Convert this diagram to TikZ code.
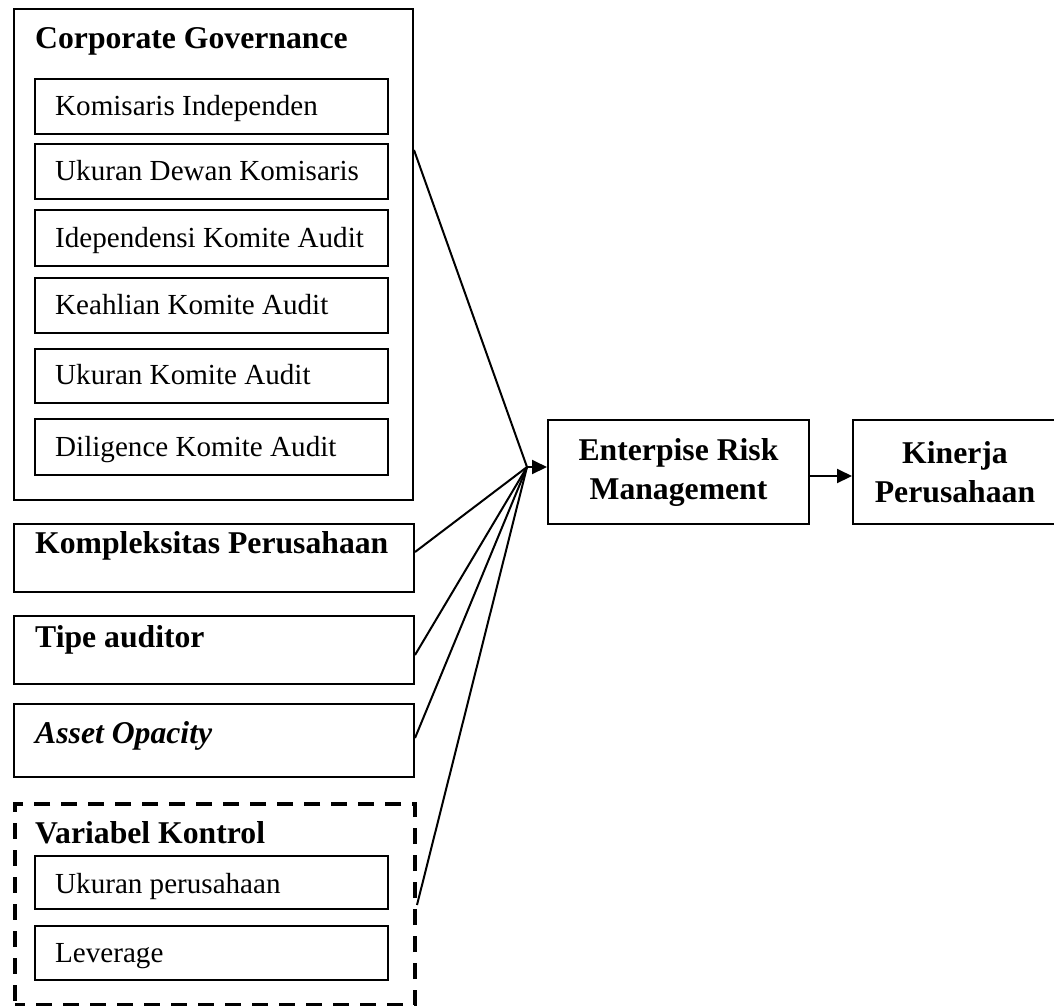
\documentclass[tikz,border=0pt]{standalone}
\usepackage{fontspec}
\setmainfont{Liberation Serif}
\usetikzlibrary{arrows.meta}
\begin{document}
\begin{tikzpicture}[x=1pt,y=-1pt,
  box/.style={draw, line width=2pt, inner sep=0pt, anchor=north west},
  dbox/.style={draw, line width=4pt, dash pattern=on 16pt off 11pt, dash phase=6pt, inner sep=0pt, anchor=north west},
  reg/.style={font=\fontsize{29.1}{35}\selectfont, anchor=base west, inner sep=0pt},
  bld/.style={font=\fontsize{31.7}{37}\selectfont\bfseries, inner sep=0pt},
  conn/.style={line width=2pt},
  tip/.style={-{Triangle[length=15pt,width=14pt]}}
]
\clip (0,0) rectangle (1054,1005);
\useasboundingbox (0,0) rectangle (1054,1005);

% Corporate governance group
\node[box, minimum width=399pt, minimum height=491pt] (cg) at (13,8) {};
\node[bld, anchor=base west] (cgt) at (35,48) {Corporate Governance};
\node[box, minimum width=353pt, minimum height=55pt] (k1) at (34,78) {};
\node[reg] (k1t) at (55,115) {Komisaris Independen};
\node[box, minimum width=353pt, minimum height=55pt] (k2) at (34,143) {};
\node[reg] (k2t) at (55,180) {Ukuran Dewan Komisaris};
\node[box, minimum width=353pt, minimum height=56pt] (k3) at (34,209) {};
\node[reg] (k3t) at (55,247) {Idependensi Komite Audit};
\node[box, minimum width=353pt, minimum height=55pt] (k4) at (34,277) {};
\node[reg] (k4t) at (55,314) {Keahlian Komite Audit};
\node[box, minimum width=353pt, minimum height=54pt] (k5) at (34,348) {};
\node[reg] (k5t) at (55,384) {Ukuran Komite Audit};
\node[box, minimum width=353pt, minimum height=56pt] (k6) at (34,418) {};
\node[reg] (k6t) at (55,456) {Diligence Komite Audit};

% single variables
\node[box, minimum width=400pt, minimum height=68pt] (kp) at (13,523) {};
\node[bld, anchor=base west] (kpt) at (35,553) {Kompleksitas Perusahaan};
\node[box, minimum width=400pt, minimum height=68pt] (ta) at (13,615) {};
\node[bld, anchor=base west] (tat) at (35,647) {Tipe auditor};
\node[box, minimum width=400pt, minimum height=73pt] (ao) at (13,703) {};
\node[bld, anchor=base west] (aot) at (35,743) {\itshape Asset Opacity};

% control variables
\node[dbox, minimum width=400pt, minimum height=201pt] (vk) at (13,802) {};
\node[bld, anchor=base west] (vkt) at (35,843) {Variabel Kontrol};
\node[box, minimum width=353pt, minimum height=53pt] (up) at (34,855) {};
\node[reg] (upt) at (55,893) {Ukuran perusahaan};
\node[box, minimum width=353pt, minimum height=54pt] (lv) at (34,925) {};
\node[reg] (lvt) at (55,962) {Leverage};

% outcome boxes
\node[box, bld, anchor=north west, align=center, minimum width=261pt, minimum height=104pt] (erm) at (547,419) {Enterpise Risk\\[2pt]Management};
\node[box, bld, anchor=north west, align=center, minimum width=204pt, minimum height=104pt] (kin) at (852,419) {Kinerja\\[2pt]Perusahaan};

% connectors
\coordinate (conv) at (527,467);
\coordinate (cgp) at ([yshift=-142pt]cg.north east);
\coordinate (kpp) at ([yshift=-29pt]kp.north east);
\coordinate (tap) at ([yshift=-40pt]ta.north east);
\coordinate (aop) at ([yshift=-35pt]ao.north east);
\coordinate (vkp) at ([yshift=-103pt]vk.north east);
\draw[conn] (cgp) -- (conv);
\draw[conn] (kpp) -- (conv);
\draw[conn] (tap) -- (conv);
\draw[conn] (aop) -- (conv);
\draw[conn] (vkp) -- (conv);
\draw[conn, tip] (conv) -- (erm.west |- conv);
\draw[conn, tip] ([yshift=-57pt]erm.north east) -- ([yshift=-57pt]kin.north west);
\end{tikzpicture}
\end{document}
